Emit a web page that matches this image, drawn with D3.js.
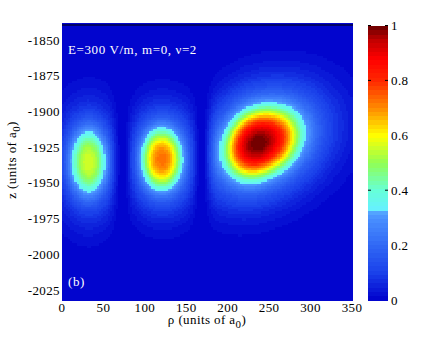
<!DOCTYPE html>
<meta charset="utf-8">
<html>
<head>
  <style>
  body { margin: 0; background: #fff; }
  text { font-family: "Liberation Serif", "Times New Roman", serif; }
  text.tick { font-size: 13px; fill: #000; letter-spacing: 0.4px; }
  text.note { font-size: 13px; fill: #fff; letter-spacing: 0.6px; }
  </style>
  <script src="https://cdn.jsdelivr.net/npm/d3@7"></script>
</head>
<body>
  <div id="chart"></div>
  <script type="text/javascript">
  /* Data */

  // Lobe centres (rho, z), peak density and widths (units of a0)
  var lobeRho   = [32, 120, 236];
  var lobeZ     = [-1935, -1933, -1922];
  var lobePeak  = [0.56, 0.72, 1.0];
  var lobeSigL  = [15.7, 16.8, 26.3]; // width towards small rho
  var lobeSigR  = [15.7, 16.8, 33.7]; // width towards large rho
  var lobeSigZ  = [16.5, 14.8, 16];
  var lobeTilt  = [0, 0, 0.12];       // dz per drho
  var lobeHalo  = [0.5, 0.5, 0.5];

  // Nodal lines in rho between the lobes
  var nodeRho = [73, 168];

  // Axis ticks
  var rhoTicks = [0, 50, 100, 150, 200, 250, 300, 350];
  var zTicks = [-1850, -1875, -1900, -1925, -1950, -1975, -2000, -2025];
  var cbTicks = [0, 0.2, 0.4, 0.6, 0.8, 1];
  var cbTickMarks = [0.4, 0.8, 1];

  // Colour map stops
  var cmapPos = [0, 0.1, 0.2, 0.3, 0.325, 0.33, 0.4, 0.5, 0.6, 0.7, 0.8, 0.88, 0.95, 1];
  var cmapCol = ["#0000cc", "#1a40ea", "#3068f5", "#4a90ff", "#55a8ff", "#66f0ff",
                 "#66ffd8", "#90ff55", "#ffff00", "#ff8c00", "#ff2800", "#ff0000", "#c00000", "#660000"];
  var LEVELS = 64;

  /* Layout */
  var W = 447, H = 337;
  var x = d3.scaleLinear().domain([0, 350]).range([62, 352]);
  var y = d3.scaleLinear().domain([-2032, -1839.5]).range([300, 25]);
  var cb = d3.scaleLinear().domain([0, 1]).range([300, 25.5]);
  var cbX = 368, cbW = 20;

  var cmap = d3.scaleLinear().domain(cmapPos).range(cmapCol).clamp(true);
  function colorOf(v) {
    var k = Math.min(LEVELS - 1, Math.max(0, Math.floor(v * LEVELS)));
    return cmap((k + 0.5) / LEVELS);
  }

  // flat-topped lobe plus a wide halo, cut by the nodal lines
  function density(r, z) {
    var v = 0;
    for (var i = 0; i < lobeRho.length; ++i) {
      var dr = r - lobeRho[i];
      var dz = z - lobeZ[i] - lobeTilt[i] * dr;
      var sr = dr < 0 ? lobeSigL[i] : lobeSigR[i];
      var q = (dr / sr) * (dr / sr) + (dz / lobeSigZ[i]) * (dz / lobeSigZ[i]);
      var h = lobeHalo[i];
      v += lobePeak[i] * ((1 - h) * Math.exp(-Math.pow(q / 2, 1.5)) + h * Math.exp(-q / 4.5));
    }
    for (var j = 0; j < nodeRho.length; ++j) {
      var d = (r - nodeRho[j]) / 8;
      v *= 1 - Math.exp(-d * d / 2);
    }
    return v;
  }

  var svg = d3.select("#chart").append("svg")
    .attr("width", W).attr("height", H);

  // Heat map cells
  var stepR = 2.5, stepZ = 1.6;
  var cells = [];
  d3.range(0, 350, stepR).forEach(function(r) {
    d3.range(-2032, -1839.5, stepZ).forEach(function(z) {
      cells.push({ r: r, z: z, v: density(r + stepR / 2, z + stepZ / 2) });
    });
  });
  svg.append("g").attr("shape-rendering", "crispEdges")
    .selectAll("rect").data(cells).enter().append("rect")
    .attr("x", function(d) { return x(d.r); })
    .attr("y", function(d) { return y(d.z + stepZ); })
    .attr("width", function(d) { return x(d.r + stepR) - x(d.r) + 0.6; })
    .attr("height", function(d) { return y(d.z) - y(d.z + stepZ) + 0.6; })
    .attr("fill", function(d) { return colorOf(d.v); });

  // Top frame line
  svg.append("line")
    .attr("x1", x(0)).attr("x2", x(350) + 1)
    .attr("y1", y.range()[1]).attr("y2", y.range()[1])
    .attr("stroke", "#000").attr("stroke-width", 1);

  // Axis labels
  svg.selectAll(".ytick").data(zTicks).enter().append("text")
    .attr("class", "tick")
    .attr("x", 60).attr("y", function(d) { return y(d) + 4.5; })
    .attr("text-anchor", "end")
    .text(function(d) { return "-" + Math.abs(d); });

  svg.selectAll(".xtick").data(rhoTicks).enter().append("text")
    .attr("class", "tick")
    .attr("x", function(d) { return x(d); }).attr("y", 312)
    .attr("text-anchor", "middle")
    .text(function(d) { return d; });

  var xl = svg.append("text").attr("class", "tick")
    .attr("x", 207).attr("y", 323.5).attr("text-anchor", "middle");
  xl.append("tspan").text("\u03c1 (units of a");
  xl.append("tspan").attr("dy", 4).attr("font-size", "11px").text("0");
  xl.append("tspan").attr("dy", -4).text(")");

  var yl = svg.append("text").attr("class", "tick")
    .attr("transform", "translate(16," + 160 + ") rotate(-90)")
    .attr("text-anchor", "middle");
  yl.append("tspan").text("z (units of a");
  yl.append("tspan").attr("dy", 4).attr("font-size", "11px").text("0");
  yl.append("tspan").attr("dy", -4).text(")");

  // Annotations
  svg.append("text").attr("class", "note")
    .attr("x", 68).attr("y", 54)
    .text("E=300 V/m, m=0, \u03bd=2");
  svg.append("text").attr("class", "note")
    .attr("x", 68).attr("y", 286)
    .text("(b)");

  // Colour bar
  var bands = d3.range(LEVELS);
  svg.append("g").attr("shape-rendering", "crispEdges")
    .selectAll("rect").data(bands).enter().append("rect")
    .attr("x", cbX).attr("width", cbW)
    .attr("y", function(k) { return cb((k + 1) / LEVELS); })
    .attr("height", function(k) { return cb(k / LEVELS) - cb((k + 1) / LEVELS) + 0.6; })
    .attr("fill", function(k) { return cmap((k + 0.5) / LEVELS); });

  var marks = svg.append("g");
  cbTickMarks.forEach(function(t) {
    marks.append("line").attr("x1", cbX).attr("x2", cbX + 3)
      .attr("y1", cb(t)).attr("y2", cb(t)).attr("stroke", "#000");
    marks.append("line").attr("x1", cbX + cbW - 3).attr("x2", cbX + cbW)
      .attr("y1", cb(t)).attr("y2", cb(t)).attr("stroke", "#000");
  });

  svg.selectAll(".cbtick").data(cbTicks).enter().append("text")
    .attr("class", "tick")
    .attr("x", 391).attr("y", function(d) { return cb(d) + 4.5; })
    .text(function(d) { return d === 0 || d === 1 ? d : d.toFixed(1); });
  </script>
</body>
</html>
